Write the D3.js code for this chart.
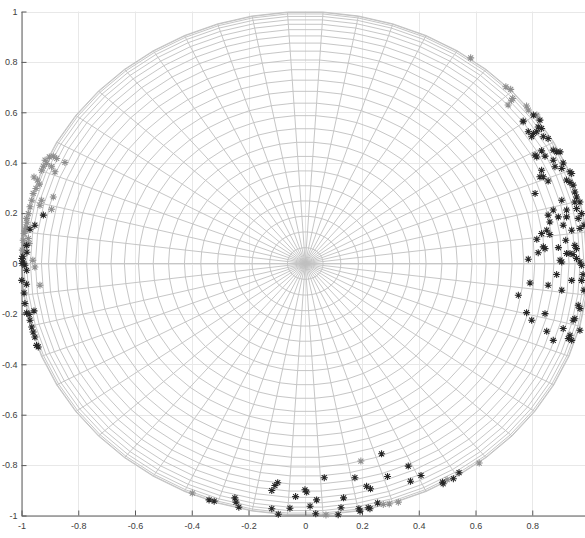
<!DOCTYPE html>
<html>
<head>
<meta charset="utf-8">
<script src="https://cdn.jsdelivr.net/npm/d3@7"></script>
<style>
  html, body { margin: 0; padding: 0; background: #fff; }
  svg { display: block; }
  .tick text { font-family: "Liberation Sans", Arial, Helvetica, sans-serif; font-size: 9px; fill: #404040; }
</style>
</head>
<body>
<svg id="chart" width="585" height="538"></svg>
<script>
// ---- data ----
const xTicks = [-1, -0.8, -0.6, -0.4, -0.2, 0, 0.2, 0.4, 0.6, 0.8];
const yTicks = [-1, -0.8, -0.6, -0.4, -0.2, 0, 0.2, 0.4, 0.6, 0.8, 1];
const sphereN = 50; // wireframe resolution

// light grey asterisks
const grayPoints = [
  [-0.902, 0.423], [-0.888, 0.426], [-0.876, 0.417], [-0.847, 0.401], [-0.911, 0.397],
  [-0.923, 0.386], [-0.894, 0.384], [-0.882, 0.364], [-0.929, 0.370], [-0.944, 0.331],
  [-0.937, 0.315], [-0.949, 0.298], [-0.959, 0.278], [-0.888, 0.264], [-0.929, 0.251],
  [-0.964, 0.251], [-0.935, 0.231], [-0.894, 0.215], [-0.970, 0.225], [-0.976, 0.198],
  [-0.982, 0.179], [-0.984, 0.145], [-0.991, 0.119], [-0.994, 0.092], [-0.988, 0.072],
  [-0.973, 0.079], [-0.953, -0.014], [-0.935, -0.086], [-0.976, 0.099], [-0.960, 0.013],
  [-0.981, 0.164], [-0.988, 0.132], [-0.997, 0.053], [-0.956, 0.343], [-0.917, 0.410],
  [0.583, 0.816], [0.707, 0.701], [0.724, 0.691], [0.731, 0.655], [0.715, 0.629],
  [0.780, 0.625], [0.786, 0.609], [0.768, 0.562], [0.727, 0.648], [0.816, 0.589],
  [-0.398, -0.911], [0.073, -0.998], [0.196, -0.784], [0.275, -0.956], [0.296, -0.954],
  [0.328, -0.947], [0.500, -0.858], [0.613, -0.792]
];

// dark asterisks
const darkPoints = [
  [-0.923, 0.192], [-0.953, 0.152], [-0.970, 0.136], [-0.982, 0.072], [-0.999, 0.020],
  [-0.994, 0.006], [-0.988, -0.007], [-0.982, -0.027], [-0.999, -0.067], [-0.982, -0.082],
  [-0.991, -0.117], [-0.988, -0.159], [-0.982, -0.196], [-0.973, -0.202], [-0.956, -0.188],
  [-0.970, -0.225], [-0.964, -0.252], [-0.959, -0.272], [-0.953, -0.292], [-0.947, -0.325],
  [-0.941, -0.331], [-0.998, 0.000], [-0.995, 0.029], [-0.981, 0.045],
  [0.804, 0.589], [0.827, 0.569], [0.821, 0.542], [0.833, 0.536], [0.786, 0.523],
  [0.804, 0.516], [0.816, 0.523], [0.839, 0.503], [0.856, 0.496], [0.798, 0.503],
  [0.768, 0.565], [0.874, 0.450], [0.898, 0.443], [0.833, 0.447], [0.816, 0.423],
  [0.845, 0.426], [0.874, 0.410], [0.909, 0.399], [0.880, 0.384], [0.904, 0.377],
  [0.933, 0.364], [0.833, 0.370], [0.827, 0.344], [0.839, 0.344], [0.886, 0.443],
  [0.810, 0.430], [0.939, 0.357], [0.856, 0.327], [0.921, 0.331], [0.933, 0.322],
  [0.944, 0.311], [0.810, 0.278], [0.950, 0.284], [0.904, 0.251], [0.956, 0.264],
  [0.950, 0.244], [0.968, 0.244], [0.921, 0.212], [0.956, 0.218], [0.874, 0.212],
  [0.856, 0.192], [0.974, 0.198], [0.892, 0.185], [0.921, 0.185], [0.962, 0.179],
  [0.862, 0.165], [0.909, 0.152], [0.939, 0.132], [0.968, 0.139], [0.851, 0.132],
  [0.833, 0.119], [0.862, 0.115], [0.816, 0.096], [0.918, 0.092], [0.950, 0.072],
  [0.956, 0.059], [0.839, 0.066], [0.845, 0.059], [0.892, 0.063], [0.821, 0.043],
  [0.921, 0.040], [0.933, 0.040], [0.944, 0.036], [0.956, 0.020], [0.968, 0.006],
  [0.974, -0.007], [0.786, 0.017], [0.898, 0.013], [0.904, 0.006], [0.886, -0.044],
  [0.939, -0.067], [0.974, -0.067], [0.792, -0.077], [0.856, -0.086], [0.904, -0.106],
  [0.751, -0.126], [0.962, -0.166], [0.968, -0.179], [0.780, -0.195], [0.845, -0.199],
  [0.798, -0.225], [0.944, -0.225], [0.950, -0.219], [0.909, -0.258], [0.968, -0.265],
  [0.851, -0.269], [0.933, -0.285], [0.927, -0.298], [0.939, -0.305], [0.874, -0.305],
  [0.982, 0.152], [0.982, -0.106], [0.979, -0.044],
  [-0.339, -0.938], [-0.321, -0.943], [-0.248, -0.930], [-0.244, -0.947], [-0.234, -0.967],
  [-0.118, -0.901], [-0.107, -0.881], [-0.097, -0.870], [-0.118, -0.973], [-0.095, -0.995],
  [-0.054, -0.971], [-0.034, -0.925], [-0.001, -0.898], [0.005, -0.907], [0.040, -0.938],
  [0.017, -0.963], [0.037, -0.993], [0.067, -0.850], [0.116, -0.997], [0.126, -0.969],
  [0.135, -0.930], [0.269, -0.755], [0.175, -0.850], [0.216, -0.884], [0.230, -0.894],
  [0.290, -0.845], [0.363, -0.804], [0.371, -0.864], [0.408, -0.841], [0.189, -0.973],
  [0.193, -0.983], [0.222, -0.969], [0.228, -0.973], [0.255, -0.950], [0.484, -0.868],
  [0.486, -0.874], [0.522, -0.854], [0.542, -0.830]
];

// ---- drawing ----
const svg = d3.select("#chart");
const x = d3.scaleLinear().domain([-1, 1]).range([21.5, 589]);
const y = d3.scaleLinear().domain([-1, 1]).range([515.5, 11.5]);

// axes grid
const grid = svg.append("g").attr("stroke", "#e8e8e8").attr("stroke-width", 1);
grid.selectAll(".gx").data(xTicks).join("line")
  .attr("x1", d => Math.round(x(d)) + 0.5).attr("x2", d => Math.round(x(d)) + 0.5)
  .attr("y1", y(1)).attr("y2", y(-1));
grid.selectAll(".gy").data(yTicks).join("line")
  .attr("y1", d => Math.round(y(d)) + 0.5).attr("y2", d => Math.round(y(d)) + 0.5)
  .attr("x1", x(-1)).attr("x2", 585);

// sphere wireframe (top view)
const lats = d3.range(0, sphereN / 2 + 1).map(k => (k * Math.PI) / sphereN); // 0..pi/2
const thetas = d3.range(0, sphereN + 1).map(j => (2 * Math.PI * j) / sphereN);
const line = d3.line().x(d => x(d[0])).y(d => y(d[1]));
const mesh = svg.append("g").attr("fill", "none").attr("stroke", "#c0c0c0").attr("stroke-width", 0.9);
// latitude rings
mesh.selectAll(".ring").data(lats.slice(0, sphereN / 2)).join("path")
  .attr("d", phi => line(thetas.map(t => [Math.cos(phi) * Math.cos(t), Math.cos(phi) * Math.sin(t)])));
// meridians
mesh.selectAll(".mer").data(thetas.slice(0, sphereN)).join("path")
  .attr("d", t => line(lats.map(phi => [Math.cos(phi) * Math.cos(t), Math.cos(phi) * Math.sin(t)])));

// axes
const xAxis = d3.axisBottom(x).tickValues(xTicks).tickSize(-5).tickSizeOuter(0).tickPadding(7)
  .tickFormat(d => String(d));
const yAxis = d3.axisLeft(y).tickValues(yTicks).tickSize(-5).tickSizeOuter(0).tickPadding(4)
  .tickFormat(d => String(d));
const gx = svg.append("g").attr("transform", `translate(0,${y(-1)})`).call(xAxis);
const gy = svg.append("g").attr("transform", `translate(${x(-1)},0)`).call(yAxis);
[gx, gy].forEach(g => {
  g.select(".domain").attr("stroke", "#5a5a5a");
  g.selectAll(".tick line").attr("stroke", "#5a5a5a");
  g.selectAll(".tick text").attr("fill", "#404040");
});

// asterisk markers
const r = 3.5, q = 2.5;
const star = `M${-r},0H${r}M0,${-r}V${r}M${-q},${-q}L${q},${q}M${-q},${q}L${q},${-q}`;
function drawPts(data, color) {
  svg.append("g").attr("fill", "none").attr("stroke", color).attr("stroke-width", 1.05)
    .selectAll("path").data(data).join("path")
    .attr("transform", d => `translate(${x(d[0])},${y(d[1])})`)
    .attr("d", star);
}
drawPts(grayPoints, "#8f8f8f");
drawPts(darkPoints, "#262626");
</script>
</body>
</html>
